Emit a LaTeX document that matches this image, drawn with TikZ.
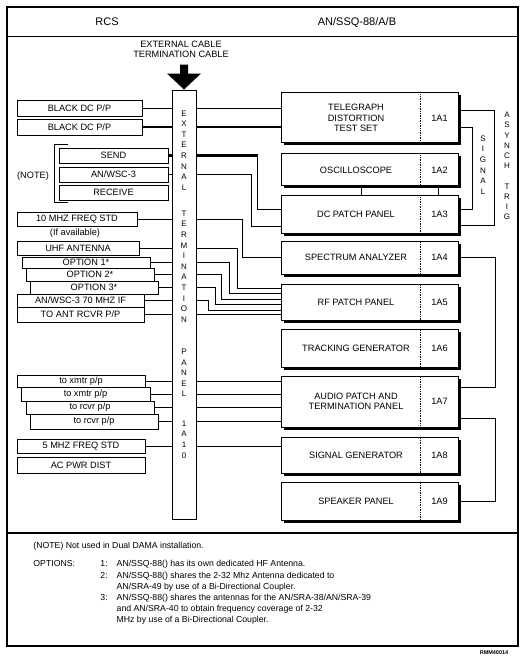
\documentclass[tikz,border=0pt]{standalone}
\usepackage{fontspec}
\setmainfont{Liberation Sans}
\usetikzlibrary{shadows}

\begin{document}
\begin{tikzpicture}[x=1pt,y=-1pt,line width=0.9pt,
  lbl/.style={font=\fontsize{9.2}{10.6}\selectfont},
  notes/.style={font=\fontsize{8.7}{11.2}\selectfont,inner sep=0pt},
  vtext/.style={font=\fontsize{8}{10.6}\selectfont,align=center,inner sep=0pt},
  unit/.style={draw,fill=white,minimum width=177pt,inner sep=0pt,line width=1pt,
    drop shadow={shadow xshift=2.5pt,shadow yshift=-2.5pt,fill=black,opacity=1}},
  rcsbox/.style={draw,fill=white,inner sep=0pt,lbl,
    drop shadow={shadow xshift=1.2pt,shadow yshift=-1.2pt,fill=black,opacity=1}},
  heavy/.style={line width=2.4pt}]
\useasboundingbox (0,0) rectangle (521,660);
\draw[line width=1.3pt] (7,7) rectangle (518,646);
\draw (7,36) -- (518,36);
\draw[line width=1.6pt] (7,533) -- (518,533);
\node[font=\fontsize{11}{13}\selectfont] (rcs) at (107,22) {RCS};
\node[font=\fontsize{11}{13}\selectfont] (ssq) at (357,23) {AN/SSQ-88/A/B};

% termination panel
\node[draw,fill=white,minimum width=24pt,minimum height=429pt,inner sep=0pt] (panel) at (184,304.5) {};
\foreach \w/\y in {{E\\X\\T\\E\\R\\N\\A\\L}/150.5,{T\\E\\R\\M\\I\\N\\A\\T\\I\\O\\N}/266.5,{P\\A\\N\\E\\L}/373,{1\\A\\1\\0}/439.5}
  \node[vtext] at (panel.north |- 0,\y) {\w};
\fill (panel.north) -- ++(-17,-16) -- ++(13,0) -- ++(0,-9) -- ++(8,0) -- ++(0,9) -- ++(13,0) -- cycle;
\node[lbl,align=center] (ext) at (181,49.5) {EXTERNAL CABLE\\TERMINATION CABLE};

% AN/SSQ-88 units
\foreach \n/\t/\b/\l/\i in {a1/93/143/{TELEGRAPH\\DISTORTION\\TEST SET}/1A1,a2/154/186/OSCILLOSCOPE/1A2,
  a3/196/233/DC PATCH PANEL/1A3,a4/241/274/SPECTRUM ANALYZER/1A4,a5/284/320/RF PATCH PANEL/1A5,
  a6/329/367/TRACKING GENERATOR/1A6,a7/376/427/{AUDIO PATCH AND\\TERMINATION PANEL}/1A7,
  a8/437/473/SIGNAL GENERATOR/1A8,a9/482/520/SPEAKER PANEL/1A9} {
  \node[unit,minimum height=\b pt-\t pt] (\n) at (369.5,{(\t+\b)/2}) {};
  \node[lbl,align=center] at ([xshift=-13.5pt]\n.center) {\l};
  \node[lbl] at ([xshift=-19pt]\n.east) {\i};
  \draw[densely dotted,line width=0.7pt] ([xshift=-38pt]\n.north east) -- ([xshift=-38pt]\n.south east);
}

% RCS side
\foreach \n/\xa/\xb/\ya/\yb/\l in {bdc1/17/142/100/116/{BLACK DC P/P},bdc2/17/142/119/135/{BLACK DC P/P},
  send/59/168/148/163/SEND,wsc/59/168/167/182/{AN/WSC-3},rcv/59/168/185/200/RECEIVE,
  ften/17/137/212/226/10 MHZ FREQ STD,uhf/17/139/241/255/UHF ANTENNA,
  op1/22/150/257/268/OPTION 1*,op2/26/154/268/281/OPTION 2*,op3/30/158/281/294/OPTION 3*,
  if70/17/144/294/307/{AN/WSC-3 70 MHZ IF},ant/17/144/307/322/{TO ANT RCVR P/P},
  tx1/17/145/375/387/{to xmtr p/p},tx2/21/150/387/401/{to xmtr p/p},
  rx1/26/154/401/414/{to rcvr p/p},rx2/30/158/414/429/{to rcvr p/p},
  fsd/17/145/439/453/5 MHZ FREQ STD,ac/17/145/457/473/AC PWR DIST}
  \node[rcsbox,minimum width=\xb pt-\xa pt,minimum height=\yb pt-\ya pt] (\n) at ({(\xa+\xb)/2},{(\ya+\yb)/2}) {\l};
\draw[line width=1.6pt] ([xshift=9pt,yshift=3pt]send.north west) -| ([xshift=-4pt,yshift=-2pt]rcv.south west) -- ++(13,0);
\node[lbl] (note) at (33,176) {(NOTE)};
\node[lbl] (avail) at (75,233) {(If available)};

% wiring through the panel
\foreach \n in {bdc1,wsc,ften,uhf,op1,op2,op3,if70,ant,tx1,tx2,rx1,rx2,fsd}
  \draw (\n.east) -- (\n.east -| panel.west);
\foreach \n in {bdc2,send}
  \draw[heavy] (\n.east) -- (\n.east -| panel.west);
\foreach \n/\u in {bdc1/a1,ant/a5,tx1/a7,tx2/a7,rx1/a7,rx2/a7,fsd/a8}
  \draw (\n.east -| panel.east) -- (\n.east -| \u.west);
\draw[heavy] (bdc2.east -| panel.east) -- (bdc2.east -| a1.west);
\foreach \n/\u/\dx/\dy in {send/a3/23/5.5,wsc/a3/29/-11.5,ften/a4/38/0,uhf/a5/43/14,
  op1/a5/51/8.5,op2/a5/59/3,op3/a5/65/-2.5,if70/a5/72/-8}
  \draw (\n.east -| panel.east) -| ([xshift=-\dx pt,yshift=\dy pt]\u.west) -- ([yshift=\dy pt]\u.west);
\draw[heavy] (send.east -| panel.east) -- ([xshift=-23pt]a3.west |- send.east);

% links between units
\foreach \p/\q/\dx/\ya/\yb in {a1/a3/14/-9/5.5,a1/a3/36/8/-10.5,a4/a7/37/0/14.5,a7/a9/37/-16.5/0}
  \draw ([yshift=\ya pt]\p.east) -| ([xshift=\dx pt,yshift=\yb pt]\q.east) -- ([yshift=\yb pt]\q.east);
\draw ([xshift=-8.5pt]a2.south) -- ([xshift=-8.5pt]a2.south |- a3.north);
\draw ([xshift=68.5pt]a2.south) -- ([xshift=68.5pt]a2.south |- a3.north);
\node[vtext] (sig) at (483,165) {S\\I\\G\\N\\A\\L};
\node[vtext,font=\fontsize{8}{10.2}\selectfont] (trig) at (507,166) {A\\S\\Y\\N\\C\\H\\[10.2pt]T\\R\\I\\G};

% notes
\node[notes,anchor=base west] (dama) at (33,548) {(NOTE) Not used in Dual DAMA installation.};
\node[notes,anchor=base west] (opts) at (33,566.5) {OPTIONS:};
\node[notes,anchor=north west] (optl) at (100,558.7) {\begin{tabular}{@{}l@{\hspace{9pt}}l@{}}
1: & AN/SSQ-88() has its own dedicated HF Antenna.\\
2: & AN/SSQ-88() shares the 2-32 Mhz Antenna dedicated to\\
 & AN/SRA-49 by use of a Bi-Directional Coupler.\\
3: & AN/SSQ-88() shares the antennas for the AN/SRA-38/AN/SRA-39\\
 & and AN/SRA-40 to obtain frequency coverage of 2-32\\
 & MHz by use of a Bi-Directional Coupler.
\end{tabular}};
\node[font=\fontsize{5.5}{6}\selectfont\bfseries] (rmm) at (494,653) {RMM40014};
\end{tikzpicture}
\end{document}
